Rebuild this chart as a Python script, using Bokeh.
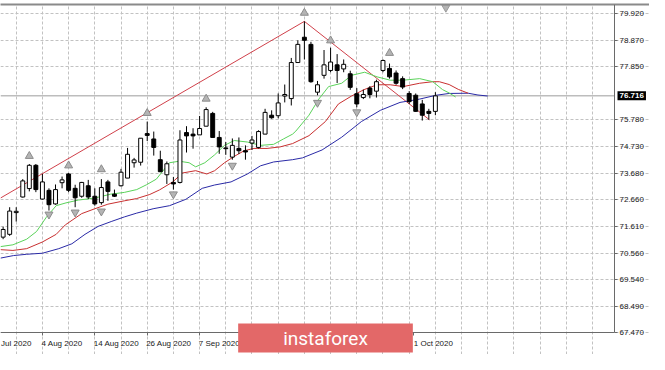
from bokeh.plotting import figure
from bokeh.models import (ColumnDataSource, FixedTicker, Range1d, Label,
                          LinearAxis, PrintfTickFormatter)
from bokeh.embed import file_html
from bokeh.resources import INLINE

# ---------------- data ----------------
bar_idx = list(range(67))
opens = [71.19, 71.30, 72.15, 72.76, 73.09, 74.00, 72.68, 73.02, 72.49, 73.32,
         73.66, 73.10, 72.79, 73.20, 72.79, 72.54, 73.35, 72.87, 73.20, 73.50,
         74.10, 74.12, 75.24, 75.03, 74.22, 73.63, 73.33, 73.33, 75.28, 75.22,
         75.19, 75.53, 76.03, 75.09, 74.68, 74.32, 74.66, 74.57, 74.87, 74.70,
         75.22, 75.96, 75.94, 76.71, 76.61, 78.02, 79.01, 78.73, 76.86, 77.52,
         77.71, 77.93, 77.77, 77.58, 76.80, 76.65, 77.02, 76.90, 77.71, 77.79,
         77.61, 77.39, 76.81, 76.74, 76.40, 76.11, 76.11]
highs = [71.60, 72.36, 72.36, 73.46, 74.05, 74.05, 73.66, 73.10, 73.25, 73.56,
         73.70, 73.24, 73.35, 73.43, 73.10, 73.46, 73.43, 73.05, 73.86, 74.68,
         74.29, 75.06, 75.71, 75.32, 74.57, 74.15, 73.54, 75.37, 75.53, 75.45,
         75.93, 76.27, 76.09, 75.34, 74.91, 75.05, 75.09, 74.78, 75.15, 75.37,
         76.21, 76.15, 76.81, 77.16, 78.20, 78.89, 79.63, 78.83, 77.30, 78.51,
         78.60, 78.35, 78.14, 77.70, 77.02, 76.96, 77.10, 77.35, 78.14, 77.98,
         77.71, 77.48, 76.90, 76.81, 76.56, 76.21, 76.86]
lows = [71.11, 71.24, 71.80, 72.74, 72.98, 72.95, 72.66, 72.23, 72.46, 73.10,
        72.95, 72.36, 72.73, 72.68, 72.42, 72.46, 72.61, 72.76, 73.17, 73.50,
        73.91, 73.99, 74.95, 74.38, 73.73, 73.27, 73.05, 73.29, 74.50, 74.65,
        75.19, 75.53, 75.09, 74.45, 74.41, 74.22, 74.44, 74.22, 74.60, 74.66,
        75.22, 75.82, 75.84, 76.46, 76.34, 78.02, 78.14, 77.23, 76.74, 77.39,
        77.64, 77.22, 77.64, 76.95, 76.27, 76.59, 76.62, 76.65, 77.64, 77.39,
        77.15, 76.98, 76.40, 76.09, 75.75, 75.78, 75.96]
closes = [71.49, 72.21, 72.20, 73.39, 74.00, 73.05, 73.35, 72.46, 73.05, 73.43,
          73.02, 72.73, 73.33, 72.76, 72.49, 73.13, 72.98, 72.79, 73.73, 74.43,
          74.21, 75.06, 75.17, 74.70, 73.75, 74.06, 73.27, 74.99, 75.15, 75.15,
          75.44, 76.18, 75.09, 74.72, 74.65, 74.78, 74.57, 74.52, 74.99, 75.32,
          76.07, 75.86, 76.44, 76.77, 78.02, 78.73, 78.89, 77.27, 77.15, 77.93,
          78.04, 77.71, 77.95, 77.05, 76.40, 76.77, 76.77, 77.27, 78.10, 77.46,
          77.21, 77.06, 76.49, 76.11, 75.96, 76.03, 76.716]

# Alligator lines (lips = green, teeth = red, jaw = blue), read at bar positions
lips_x = [-0.4, 1.5, 3.6, 5.1, 6.6, 8.1, 9.6, 11.5, 14.0, 16.4, 18.5, 20.4, 21.9,
          23.4, 25.4, 26.9, 28.4, 29.4, 30.8, 32.3, 33.8, 35.3, 37.3, 39.3, 41.3,
          42.8, 44.2, 44.7, 46.7, 48.2, 49.7, 51.7, 53.2, 55.2, 57.1, 59.1, 61.1,
          63.6, 65.6, 67.1, 68.1, 69.1]
lips_y = [70.82, 70.89, 71.11, 71.41, 71.97, 72.42, 72.53, 72.64, 72.72, 72.87,
          72.94, 73.05, 73.24, 73.46, 74.10, 74.16, 74.10, 73.94, 74.10, 74.41,
          74.78, 74.97, 74.91, 74.78, 74.82, 75.03, 75.22, 75.34, 75.96, 76.59,
          77.08, 77.21, 77.52, 77.64, 77.46, 77.33, 77.33, 77.39, 77.27, 76.96,
          76.83, 76.67]
teeth_x = [-0.4, 1.5, 3.6, 6.0, 8.1, 9.5, 12.0, 14.0, 16.0, 18.5, 20.4, 22.4, 23.9,
           25.9, 27.4, 29.4, 31.1, 32.3, 33.8, 35.3, 36.8, 38.3, 40.3, 42.3, 44.2,
           46.7, 49.2, 51.2, 53.2, 55.1, 57.1, 59.1, 61.1, 63.6, 65.6, 66.6, 68.1,
           69.5, 71.0]
teeth_y = [70.70, 70.67, 70.74, 71.00, 71.30, 71.67, 72.11, 72.30, 72.48, 72.61,
           72.70, 72.86, 73.04, 73.35, 73.70, 73.79, 73.66, 73.79, 74.10, 74.35,
           74.57, 74.66, 74.66, 74.72, 74.85, 75.16, 75.71, 76.40, 76.71, 76.96,
           77.15, 77.15, 77.08, 77.21, 77.27, 77.27, 77.16, 76.97, 76.82]
jaw_x = [-0.4, 1.6, 3.6, 6.0, 8.5, 10.5, 12.5, 14.5, 16.5, 18.5, 20.4, 22.9, 25.4,
         27.9, 30.4, 32.3, 34.8, 37.3, 39.3, 41.3, 44.2, 45.7, 48.7, 51.7, 54.7,
         57.6, 60.6, 63.6, 66.1, 68.1, 71.0, 72.5, 74.0]
jaw_y = [70.37, 70.47, 70.52, 70.56, 70.74, 70.93, 71.30, 71.61, 71.80, 71.98,
         72.13, 72.30, 72.42, 72.67, 73.10, 73.23, 73.35, 73.66, 73.98, 74.13,
         74.22, 74.29, 74.60, 75.10, 75.71, 76.15, 76.46, 76.59, 76.74, 76.81,
         76.82, 76.75, 76.71]

# trend lines through the highs
trend_x = [-0.4, 46.0, 65.1]
trend_y = [72.72, 79.63, 75.78]

# fractal arrows
frac_up_x = [4, 10, 15, 22, 31, 46, 50, 59]
frac_up_y = [74.36, 73.99, 73.84, 76.04, 76.60, 79.96, 78.88, 78.39]
frac_dn_x = [7, 11, 15, 26, 35, 48, 54]
frac_dn_y = [72.08, 72.16, 72.20, 72.87, 73.99, 76.45, 76.08]

chart_shift_idx = 67.6

price_ticks = [67.47, 68.49, 69.54, 70.56, 71.61, 72.66, 73.68, 74.73, 75.78,
               77.85, 78.87, 79.92]
grid_idx = list(range(2, 94, 4))
date_labels = ["Jul 2020", "4 Aug 2020", "14 Aug 2020", "26 Aug 2020",
               "7 Sep 2020", "1 Oct 2020"]
date_start_idx = [-0.4, 6, 14, 22, 30, 62.7]

# chart area in data units: bars -0.4..93.35, prices 67.46..80.29
X0, X_AXIS = -0.4, 93.35
Y_AXIS, Y1 = 67.46, 80.29

# ---------------- layout ----------------
W, H = 649, 354
TOP = 4
CHART_W = 614          # price axis sits here, scale area to the right
CHART_H = 328          # date axis sits here, date area below
FRAME_H = H - TOP
x_per_px = (X_AXIS - X0) / CHART_W
y_per_px = (Y1 - Y_AXIS) / CHART_H
X_END = X_AXIS + (W - CHART_W) * x_per_px
Y_START = Y_AXIS - (FRAME_H - CHART_H) * y_per_px

p = figure(width=W, height=H, x_range=Range1d(X0, X_END), y_range=Range1d(Y_START, Y1),
           y_axis_location="right", output_backend="svg", toolbar_location=None,
           min_border_left=0, min_border_right=0, min_border_top=TOP,
           min_border_bottom=0)
p.background_fill_color = "white"
p.border_fill_color = "white"
p.outline_line_color = None

GRID = "#c2c2c2"
p.xgrid.ticker = FixedTicker(ticks=grid_idx)
p.xgrid.bounds = (Y_AXIS, Y1)
p.ygrid.bounds = (X0, X_AXIS)
for g in (p.xgrid, p.ygrid):
    g.grid_line_color = GRID
    g.grid_line_dash = "3 2"
    g.grid_line_width = 1

AX = "#6a6a6a"
FONT = "Liberation Sans"
# right price axis
ya = p.yaxis[0]
ya.fixed_location = X_AXIS
ya.bounds = (Y_AXIS, Y1)
ya.ticker = FixedTicker(ticks=price_ticks)
ya.formatter = PrintfTickFormatter(format="%.3f")
ya.axis_line_color = AX
ya.major_tick_line_color = AX
ya.major_tick_out = 3
ya.major_tick_in = 0
ya.minor_tick_line_color = None
ya.major_label_standoff = 2
ya.major_label_text_font = FONT
ya.major_label_text_font_size = "8px"
ya.major_label_text_color = "#202020"

# bottom date axis
centers = [s + len(t) * 0.3 for s, t in zip(date_start_idx, date_labels)]
xa = p.xaxis[0]
xa.fixed_location = Y_AXIS
xa.bounds = (X0, X_AXIS)
xa.ticker = FixedTicker(ticks=centers, minor_ticks=date_start_idx[1:])
xa.major_label_overrides = {c: t for c, t in zip(centers, date_labels)}
xa.axis_line_color = AX
xa.major_tick_line_color = None
xa.major_tick_out = 3
xa.major_tick_in = 0
xa.minor_tick_line_color = AX
xa.minor_tick_out = 3
xa.minor_tick_in = 0
xa.major_label_standoff = 3
xa.major_label_text_font = FONT
xa.major_label_text_font_size = "8px"
xa.major_label_text_color = "#202020"

# top border
top_axis = LinearAxis(ticker=FixedTicker(ticks=[]), major_label_text_font_size="0px",
                      major_tick_line_color=None, minor_tick_line_color=None,
                      axis_line_color="#8a8a8a", axis_line_width=2,
                      major_tick_out=0, major_label_standoff=0)
p.add_layout(top_axis, "above")

# bid line
p.segment(x0=[X0], y0=[closes[-1]], x1=[X_AXIS], y1=[closes[-1]],
          line_color="#bdbdbd", line_width=1.5, level="underlay")

# trend line
p.line(trend_x, trend_y, line_color="#d0404a", line_width=1)

# alligator
p.line(jaw_x, jaw_y, line_color="#2a2aa6", line_width=1)
p.line(teeth_x, teeth_y, line_color="#c83030", line_width=1)
p.line(lips_x, lips_y, line_color="#5ad25a", line_width=1)

# candles
tops = [max(o, c) for o, c in zip(opens, closes)]
bots = [min(o, c) for o, c in zip(opens, closes)]
fills = ["white" if c >= o else "black" for o, c in zip(opens, closes)]
src = ColumnDataSource(dict(x=bar_idx, top=tops, bottom=bots, high=highs,
                            low=lows, fill=fills))
p.segment(x0="x", y0="low", x1="x", y1="high", source=src, line_color="black",
          line_width=1)
p.vbar(x="x", width=0.6, top="top", bottom="bottom", source=src,
       fill_color="fill", line_color="black", line_width=1)

# fractals
p.scatter(frac_up_x, frac_up_y, marker="triangle", size=8, fill_color="#b4b4b4",
          line_color="#8c8c8c")
p.scatter(frac_dn_x, frac_dn_y, marker="inverted_triangle", size=8,
          fill_color="#b4b4b4", line_color="#8c8c8c")
p.scatter([chart_shift_idx], [Y1 - 0.12], marker="inverted_triangle", size=8,
          fill_color="#b4b4b4", line_color="#9a9a9a")

# current price label
p.add_layout(Label(x=X_AXIS, y=closes[-1], x_offset=3, text="%.3f" % closes[-1],
                   text_font=FONT, text_font_size="8px", text_font_style="bold",
                   text_color="white", text_baseline="middle",
                   background_fill_color="black", padding=2))

# watermark
p.add_layout(Label(x=325, y=16.5, x_units="screen", y_units="screen",
                   text="instaforex", text_font="Roboto", text_font_size="19px",
                   text_color="white", text_align="center", text_baseline="middle",
                   background_fill_color="#e36868",
                   padding=dict(left=45, right=45, top=3, bottom=3)))

open("out.html", "w").write(file_html(p, INLINE))
